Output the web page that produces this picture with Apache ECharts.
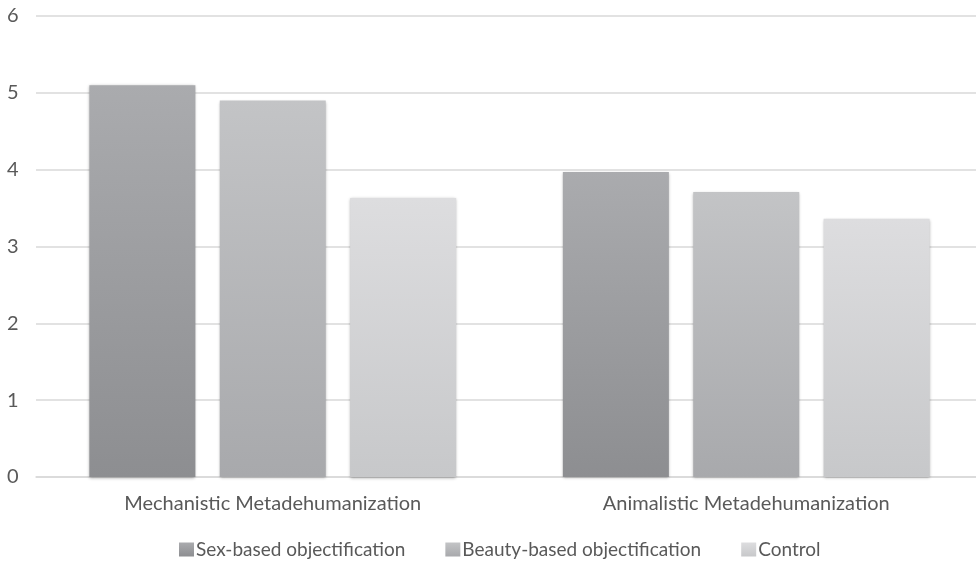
<!DOCTYPE html>
<html>
<head>
<meta charset="utf-8">
<script src="https://cdn.jsdelivr.net/npm/echarts@6/dist/echarts.min.js"></script>
<style>
  html, body { margin: 0; padding: 0; background: #fff; }
  #main { width: 976px; height: 561px; }
</style>
</head>
<body>
<div id="main"></div>
<script>
const categories = ['Mechanistic Metadehumanization', 'Animalistic Metadehumanization']
const seriesNames = ['Sex-based objectification', 'Beauty-based objectification', 'Control']
const sexBased = [5.10, 3.97]
const beautyBased = [4.90, 3.71]
const control = [3.63, 3.36]

// gradient top -> bottom for each series
const shades = [
    ['#aaabae', '#8d8e91'],
    ['#c3c4c6', '#a8a9ac'],
    ['#dddddf', '#c7c8ca']
]

const grad = (c) => new echarts.graphic.LinearGradient(0, 0, 0, 1, [
    { offset: 0, color: c[0] },
    { offset: 1, color: c[1] }
])

const font = "Lato, sans-serif"
const chart = echarts.init(document.getElementById('main'))

const makeSeries = (name, data, i) => ({
    name,
    type: 'bar',
    data,
    barWidth: 106,
    barGap: '23%',
    itemStyle: {
        color: grad(shades[i]),
        shadowBlur: 3,
        shadowColor: 'rgba(0,0,0,0.35)',
        shadowOffsetY: 1
    },
    emphasis: { disabled: true }
})

chart.setOption({
    animation: false,
    grid: { left: 36, right: -7, top: 16, bottom: 84, outerBoundsMode: 'none' },
    legend: {
        top: 535,
        left: 174,
        itemWidth: 15,
        itemHeight: 14,
        itemGap: 40,
        icon: 'rect',
        textStyle: { color: '#595959', fontSize: 19, fontFamily: font, padding: [0, 0, 0, -3] },
        data: seriesNames.map((n, i) => ({ name: n, itemStyle: { color: grad(shades[i]) } }))
    },
    xAxis: {
        type: 'category',
        data: categories,
        axisLine: { lineStyle: { color: '#d9d9d9', width: 1.5 } },
        axisTick: { show: false },
        axisLabel: { color: '#595959', fontSize: 20, fontFamily: font, margin: 17 }
    },
    yAxis: {
        type: 'value',
        min: 0,
        max: 6,
        interval: 1,
        axisLine: { show: false },
        axisTick: { show: false },
        splitLine: { lineStyle: { color: '#d9d9d9', width: 1.5 } },
        axisLabel: { color: '#595959', fontSize: 20, fontFamily: font, margin: 29, align: 'left' }
    },
    series: [
        makeSeries(seriesNames[0], sexBased, 0),
        makeSeries(seriesNames[1], beautyBased, 1),
        makeSeries(seriesNames[2], control, 2)
    ]
})
</script>
</body>
</html>
